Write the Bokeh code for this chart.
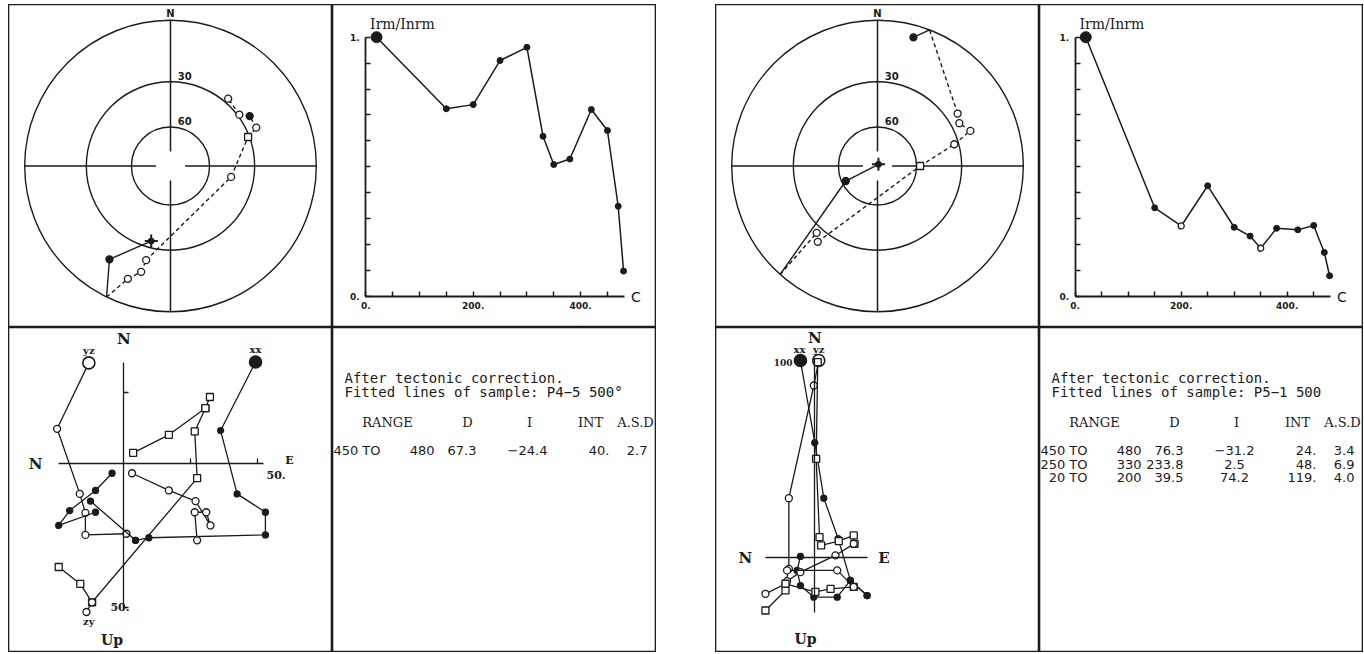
import math
from bokeh.plotting import figure
from bokeh.layouts import row, column
from bokeh.models import Range1d, LinearAxis, FixedTicker, PrintfTickFormatter, Spacer
from bokeh.core.properties import value
from bokeh.embed import file_html
from bokeh.resources import INLINE

INK = "#1b1b1b"
SERIF = "DejaVu Serif"
SANS = "DejaVu Sans"
MONO = "DejaVu Sans Mono"

# ---------------- thermal demagnetisation: normalised intensity ----------------
temps = [20, 150, 200, 250, 300, 330, 350, 380, 420, 450, 470, 480]
p4_int = [1.0, 0.724, 0.740, 0.910, 0.961, 0.618, 0.509, 0.530, 0.721, 0.640, 0.348, 0.098]
p5_int = [1.0, 0.342, 0.272, 0.427, 0.267, 0.233, 0.186, 0.263, 0.257, 0.274, 0.170, 0.080]
p4_int_open = []
p5_int_open = [2, 6]

# ---------------- equal-angle net: directions (declination, inclination) ----------------
p4_dec = [194.4, 213.2, 206.0, 200.7, 195.5, 194.5, 100.2, 69.5, 65.9, 57.8, 53.3, 40.6]
p4_inc = [34.0, 15.2, 0.0, -10.8, -16.0, -22.6, -44.2, -30.8, -24.4, 24.6, -29.0, -27.4]
p4_sym = ["plus", "circle", "", "circle", "circle", "circle", "circle", "square",
          "circle", "circle", "circle", "circle"]

p5_dec = [30.0, 244.7, 221.9, 222.3, 218.2, 90.0, 74.2, 69.3, 62.4, 56.8, 20.9, 15.6]
p5_inc = [88.5, 62.9, 0.0, -26.4, -23.0, -57.4, -32.6, -21.5, -25.3, -23.4, 0.0, 5.0]
p5_sym = ["plus", "circle", "", "circle", "circle", "square", "circle", "circle",
          "circle", "circle", "", "circle"]

net_circles = [0, 30, 60]
net_labels = ["30", "60"]

# ---------------- orthogonal (Zijderveld) projections ----------------
# each path: list of (x, y) vertices in plot units
p4_yz = [(-13.1, 35.2), (-25.0, 12.2), (-16.5, -10.5), (-14.4, -17.1), (-14.4, -24.8), (1.0, -24.4)]
p4_xx = [(49.4, 35.5), (36.3, 11.6), (42.5, -10.5), (53.1, -16.9), (53.1, -24.8), (9.4, -25.8), (4.4, -26.7)]
p4_fa = [(-4.4, -3.3), (-10.6, -9.3), (-20.3, -16.3), (-24.4, -21.5), (-10.6, -16.9)]
p4_fb = [(-12.5, -13.0), (4.4, -26.7)]
p4_oa = [(3.1, -3.3), (16.9, -9.3), (26.9, -13.0), (32.5, -21.5), (30.9, -16.9), (26.6, -16.9), (27.5, -26.7)]
p4_sa = [(3.5, 3.8), (16.9, 10.1), (30.6, 19.4), (32.3, 23.3)]
p4_sb = [(30.6, 19.4), (26.6, 11.3), (27.5, -5.0), (-11.9, -48.3), (-16.3, -41.9), (-24.4, -36.0)]
p4_oc = [(-11.9, -48.3), (-14.0, -51.7)]

p5_xx = [(-7.3, 100.3), (0.0, 58.5), (4.6, 30.3), (11.9, 9.7), (18.1, -11.5), (26.6, -19.2)]
p5_yz = [(2.0, 100.3), (-0.5, 87.6), (-13.2, 30.3), (-13.2, -5.6), (-14.9, -13.2), (-25.1, -18.3)]
p5_sa = [(1.5, 99.5), (0.7, 50.3), (2.4, 10.5), (3.2, 6.3), (12.2, 8.5), (19.8, 11.4), (20.2, 7.1)]
p5_fa = [(-7.3, 0.7), (-9.0, -6.4), (-7.3, -14.1), (-0.5, -20.0), (11.4, -20.0), (18.1, -11.5), (26.6, -19.2)]
p5_oa = [(-14.1, -11.9), (-7.3, -7.3), (10.5, 1.2), (19.8, 7.1)]
p5_sb = [(-25.1, -26.8), (-14.9, -16.6), (-14.9, -13.2), (0.3, -17.3), (8.0, -15.8), (19.8, -14.8)]
p5_ob = [(-14.1, -6.4), (11.4, -6.4), (19.8, -14.8)]

# ---------------- fitted-line tables ----------------
p4_sample = "P4\u22125 500\u00b0"
p4_rows = [("450", "480", "67.3", "\u221224.4", "40.", "2.7")]
p5_sample = "P5\u22121 500"
p5_rows = [("450", "480", "76.3", "\u221231.2", "24.", "3.4"),
           ("250", "330", "233.8", "2.5", "48.", "6.9"),
           ("20", "200", "39.5", "74.2", "119.", "4.0")]
table_head = ["RANGE", "D", "I", "INT", "A.S.D"]


def base(w, h, xr, yr):
    p = figure(width=w, height=h, x_range=Range1d(*xr), y_range=Range1d(*yr),
               x_axis_type=None, y_axis_type=None, output_backend="svg",
               toolbar_location=None, min_border=0)
    p.outline_line_color = INK
    p.outline_line_width = 1.6
    p.background_fill_color = "white"
    p.border_fill_color = "white"
    return p


def label(p, x, y, txt, size="13px", font=SERIF, align="center", baseline="middle", style="normal"):
    p.text(x=[x], y=[y], text=[txt], text_font=value(font), text_font_size=value(size),
           text_align=align, text_baseline=baseline, text_color=INK, text_font_style=style)


def stereo_xy(dec, inc):
    r = math.tan(math.radians((90.0 - abs(inc)) / 2.0))
    return r * math.sin(math.radians(dec)), r * math.cos(math.radians(dec))


def stereonet(w, h, decs, incs, syms):
    R = 145.8
    p = base(w, h, (-w / 2 / R, w / 2 / R), (-h / 2 / R, h / 2 / R))
    for inc in net_circles:
        r = math.tan(math.radians((90 - inc) / 2))
        p.circle(x=[0], y=[0], radius=r, fill_color=None, line_color=INK, line_width=1.4)
    g = 0.1
    p.segment(x0=[-1, g, 0, 0], y0=[0, 0, 1, -g], x1=[-g, 1, 0, 0], y1=[0, 0, g, -1],
              line_color=INK, line_width=1.5)
    label(p, 0, 1.005, "N", size="10px", font=SANS, baseline="bottom", style="bold")
    for txt, inc in zip(net_labels, net_circles[1:]):
        r = math.tan(math.radians((90 - inc) / 2))
        label(p, 0.05, r + 0.015, txt, size="10px", font=SANS, align="left",
              baseline="bottom", style="bold")
    pts = [stereo_xy(d, i) for d, i in zip(decs, incs)]
    sx0, sy0, sx1, sy1, dx0, dy0, dx1, dy1 = [], [], [], [], [], [], [], []
    for k in range(len(pts) - 1):
        (xa, ya), (xb, yb) = pts[k], pts[k + 1]
        if incs[k] >= 0 and incs[k + 1] >= 0:
            sx0.append(xa); sy0.append(ya); sx1.append(xb); sy1.append(yb)
        else:
            dx0.append(xa); dy0.append(ya); dx1.append(xb); dy1.append(yb)
    p.segment(x0=sx0, y0=sy0, x1=sx1, y1=sy1, line_color=INK, line_width=1.4)
    p.segment(x0=dx0, y0=dy0, x1=dx1, y1=dy1, line_color=INK, line_width=1.4, line_dash="4 3")
    for (x, y), inc, s in zip(pts, incs, syms):
        if s == "":
            continue
        if s == "plus":
            p.scatter([x], [y], marker="cross", size=13, line_color=INK, line_width=2)
            p.scatter([x], [y], marker="circle", size=6, fill_color=INK, line_color=INK)
            continue
        fill = INK if inc > 0 else "white"
        p.scatter([x], [y], marker=s, size=7, fill_color=fill, line_color=INK, line_width=1.3)
    return p


def intensity(w, h, t0_px, tscale, vals, open_idx):
    top_px, zero_px = 32.7, 292.0
    unit = zero_px - top_px
    p = base(w, h, (-t0_px / tscale, (w - t0_px) / tscale),
             (-(h - zero_px) / unit, 1 + top_px / unit))
    xa = LinearAxis(fixed_location=0, bounds=(0, 482),
                    ticker=FixedTicker(ticks=[0, 200, 400],
                                       minor_ticks=[50, 100, 150, 250, 300, 350, 450]),
                    formatter=PrintfTickFormatter(format="%d."))
    ya = LinearAxis(fixed_location=0, bounds=(0, 1),
                    ticker=FixedTicker(ticks=[0, 1], minor_ticks=[k / 10 for k in range(1, 10)]),
                    formatter=PrintfTickFormatter(format="%d."))
    for ax in (xa, ya):
        ax.axis_line_color = INK
        ax.axis_line_width = 1.8
        ax.major_tick_in = 5
        ax.major_tick_out = 0
        ax.minor_tick_in = 5
        ax.minor_tick_out = 0
        ax.major_tick_line_width = 1.5
        ax.minor_tick_line_width = 1.5
        ax.major_tick_line_color = INK
        ax.minor_tick_line_color = INK
        ax.major_label_text_font = SANS
        ax.major_label_text_font_size = "9px"
        ax.major_label_text_font_style = "bold"
        ax.major_label_text_color = INK
    xa.major_label_standoff = 5
    ya.major_label_standoff = 6
    p.add_layout(xa, "below")
    p.add_layout(ya, "left")
    p.line(temps, vals, line_color=INK, line_width=1.5)
    fx = [t for k, t in enumerate(temps) if k not in open_idx and k > 0]
    fy = [v for k, v in enumerate(vals) if k not in open_idx and k > 0]
    p.scatter(fx, fy, marker="circle", size=6, fill_color=INK, line_color=INK)
    ox = [temps[k] for k in open_idx]
    oy = [vals[k] for k in open_idx]
    p.scatter(ox, oy, marker="circle", size=6, fill_color="white", line_color=INK, line_width=1.3)
    p.scatter([temps[0]], [vals[0]], marker="circle", size=11, fill_color=INK, line_color=INK)
    label(p, 8, 1.05, "Irm/Inrm", size="14px", font=SERIF, align="left")
    label(p, 494, 0, "C", size="14px", font=SANS, align="left")
    return p


def zij_axes(p, hb, vb, hticks, vticks):
    # ticks are drawn as unlabelled minor ticks
    xa = LinearAxis(fixed_location=0, bounds=hb, ticker=FixedTicker(ticks=[], minor_ticks=hticks))
    ya = LinearAxis(fixed_location=0, bounds=vb, ticker=FixedTicker(ticks=[], minor_ticks=vticks))
    for ax in (xa, ya):
        ax.axis_line_color = INK
        ax.axis_line_width = 1.3
        ax.minor_tick_in = 5
        ax.minor_tick_out = 0
        ax.minor_tick_line_color = INK
        ax.minor_tick_line_width = 1.3
        ax.major_tick_line_color = None
    p.add_layout(xa, "below")
    p.add_layout(ya, "left")


def zpath(p, pts, kind, big=False):
    xs = [a for a, b in pts]
    ys = [b for a, b in pts]
    p.line(xs, ys, line_color=INK, line_width=1.3)
    fill = INK if kind == "filled" else "white"
    marker = "square" if kind == "square" else "circle"
    size = 6 if kind == "filled" else 7
    p.scatter(xs, ys, marker=marker, size=size, fill_color=fill, line_color=INK, line_width=1.3)
    if big:
        p.scatter(xs[:1], ys[:1], marker="circle", size=12, fill_color=fill, line_color=INK,
                  line_width=1.6)


def zij_p4(w, h):
    ox, oy, sx, sy = 115.3, 136.3, 2.667, 2.867
    p = base(w, h, (-ox / sx, (w - ox) / sx), (-(h - oy) / sy, oy / sy))
    zij_axes(p, (-24.4, 52.5), (-51.2, 35.5), [25, 50], [25, -50])
    zpath(p, p4_yz, "open", big=True)
    zpath(p, p4_xx, "filled", big=True)
    zpath(p, p4_fa, "filled")
    zpath(p, p4_fb, "filled")
    zpath(p, p4_oa, "open")
    zpath(p, p4_sa, "square")
    zpath(p, p4_sb, "square")
    zpath(p, p4_oc, "open")
    label(p, 0, 43.5, "N", size="15px", style="bold")
    label(p, -33.1, 0, "N", size="15px", style="bold")
    label(p, 53.5, -2.5, "50.", size="11px", align="left", baseline="top", style="bold")
    label(p, 60.5, 1.0, "E", size="11px", align="left", baseline="middle", style="bold")
    label(p, -5.0, -50, "50.", size="11px", align="left", baseline="middle", style="bold")
    label(p, -13.1, 39.6, "yz", size="10px", style="bold")
    label(p, 49.4, 40.0, "xx", size="10px", style="bold")
    label(p, -13.1, -55.0, "zy", size="10px", style="bold")
    label(p, -4.4, -61.3, "Up", size="14px", style="bold")
    return p


def zij_p5(w, h):
    ox, oy, s = 99.3, 230.3, 1.967
    p = base(w, h, (-ox / s, (w - ox) / s), (-(h - oy) / s, oy / s))
    zij_axes(p, (-25.1, 26.6), (-27.6, 101.2), [], [])
    zpath(p, p5_xx, "filled", big=True)
    zpath(p, p5_yz, "open", big=True)
    zpath(p, p5_sa, "square")
    zpath(p, p5_fa, "filled")
    zpath(p, p5_oa, "open")
    zpath(p, p5_sb, "square")
    zpath(p, p5_ob, "open")
    label(p, 0, 111.5, "N", size="15px", style="bold")
    label(p, -35.3, 0, "N", size="15px", style="bold")
    label(p, 35.1, 0, "E", size="15px", style="bold")
    label(p, -7.8, 106.0, "xx", size="10px", style="bold")
    label(p, 2.0, 106.0, "yz", size="10px", style="bold")
    label(p, -11.3, 99.3, "100", size="9px", align="right", style="bold")
    label(p, -4.7, -41.5, "Up", size="14px", style="bold")
    return p


def table(w, h, sample, rows):
    p = base(w, h, (0, w), (h, 0))
    label(p, 12, 50, "After tectonic correction.", size="14px", font=MONO, align="left")
    label(p, 12, 64, "Fitted lines of sample: " + sample, size="14px", font=MONO, align="left")
    for txt, x in zip(table_head, [55, 135, 197, 258, 303]):
        label(p, x, 95, txt, size="13px")
    ends = [48, 102, 144, 195, 277, 315]
    aligns = ["right", "right", "right", "center", "right", "right"]
    for k, r in enumerate(rows):
        y = 123 + 13.5 * k
        cells = [r[0] + " TO", r[1], r[2], r[3], r[4], r[5]]
        for c, x, a in zip(cells, ends, aligns):
            label(p, x, y, c, size="13px", font=SANS, align=a)
    return p


W, H_TOP, H_BOT = 324, 323, 325

st4 = stereonet(W, H_TOP, p4_dec, p4_inc, p4_sym)
in4 = intensity(W, H_TOP, 33.3, 0.537, p4_int, p4_int_open)
zj4 = zij_p4(W, H_BOT)
tb4 = table(W, H_BOT, p4_sample, p4_rows)

st5 = stereonet(W, H_TOP, p5_dec, p5_inc, p5_sym)
in5 = intensity(W, H_TOP, 35.7, 0.530, p5_int, p5_int_open)
zj5 = zij_p5(W, H_BOT)
tb5 = table(W, H_BOT, p5_sample, p5_rows)

g4 = column(row(st4, in4), row(zj4, tb4))
g5 = column(row(st5, in5), row(zj5, tb5))
page = column(Spacer(height=4), row(Spacer(width=8), g4, Spacer(width=59), g5))

open("out.html", "w").write(file_html(page, INLINE))
